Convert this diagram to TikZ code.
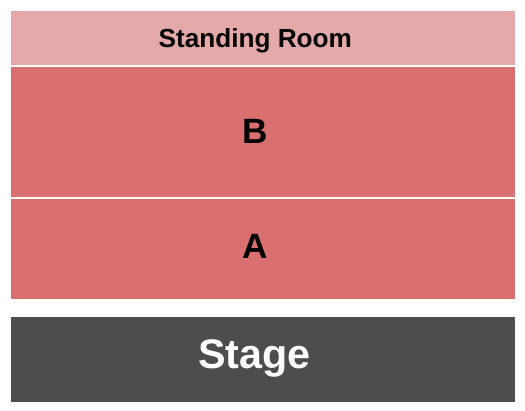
\documentclass[tikz,border=0pt]{standalone}
\usepackage{fontspec}
\setmainfont{Liberation Sans}
\usetikzlibrary{positioning,calc}
\definecolor{standcol}{HTML}{E5A9A9}
\definecolor{seatcol}{HTML}{D9706F}
\definecolor{stagecol}{HTML}{4D4D4D}

\tikzset{
  section/.style={rectangle, inner sep=0pt, minimum width=10.08cm, anchor=north west},
  seclabel/.style={inner sep=0pt, anchor=base, font=\bfseries}
}

\begin{document}
\begin{tikzpicture}[x=0.02cm,y=-0.02cm]

  \useasboundingbox (0,0) rectangle (525,410);

  \node [section, fill=standcol, minimum height=1.08cm] at (11,11) (standing) {};
  \node [seclabel, font=\fontsize{14.9}{16}\selectfont\bfseries] at($(standing.north)+(-8,36)$) (standing_label) {Standing Room};

  \node [section, fill=seatcol, minimum height=2.6cm] at (11,67) (sec_b) {};
  \node [seclabel, font=\fontsize{20}{22}\selectfont\bfseries] at($(sec_b.north)+(-8,76.3)$) (sec_b_label) {B};

  \node [section, fill=seatcol, minimum height=2cm] at (11,199) (sec_a) {};
  \node [seclabel, font=\fontsize{20}{22}\selectfont\bfseries] at($(sec_a.north)+(-8,59.3)$) (sec_a_label) {A};

  \node [section, fill=stagecol, minimum height=1.7cm] at (11,317) (stage) {};
  \node [seclabel, font=\fontsize{23.5}{25}\selectfont\bfseries, text=white] at($(stage.north)+(-9,51)$) (stage_label) {Stage};

\end{tikzpicture}
\end{document}
